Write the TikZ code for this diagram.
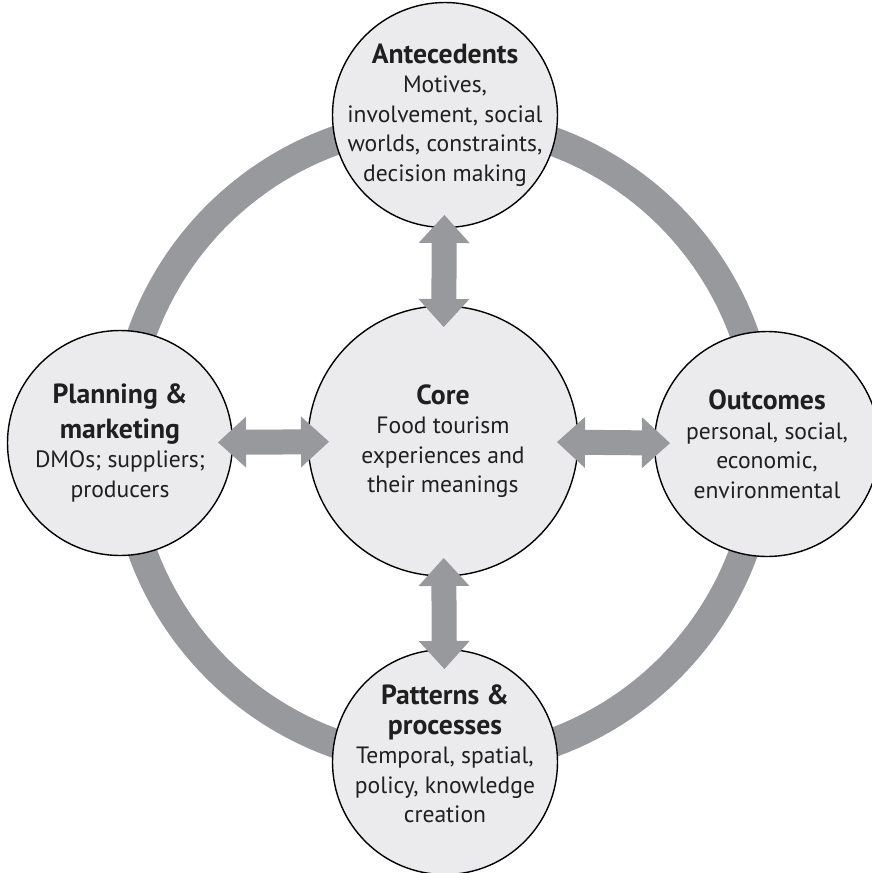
\documentclass[tikz,border=0pt]{standalone}
\usepackage{fontspec}
\setmainfont{PT Sans}
\usetikzlibrary{arrows.meta}
\definecolor{ringgray}{RGB}{152,153,156}
\definecolor{fillgray}{RGB}{235,235,237}
\newcommand\ttlf{\fontsize{27.7}{29.5}\selectfont\bfseries}
\begin{document}
\begin{tikzpicture}[x=1pt,y=-1pt,
  bubble/.style={circle, draw=black, line width=1.4pt, fill=fillgray, inner sep=0pt, minimum size=#1},
  txt/.style={align=center, font=\fontsize{23.6}{29.5}\selectfont, text=black!88, inner sep=0pt},
  link/.style={color=ringgray, line width=25pt,
    {Triangle[width=51pt,length=28pt,line width=0pt]}-{Triangle[width=51pt,length=28pt,line width=0pt]}}]
\useasboundingbox (0,0) rectangle (872,873);
\coordinate (mid) at (443,442);
\draw[ringgray, line width=29pt] (mid) circle[radius=320];
\node[bubble=270] (core) at (443,441) {};
\node[bubble=225] (ante) at (445,115) {};
\node[bubble=225] (plan) at (120,443) {};
\node[bubble=225] (outc) at (767,444) {};
\node[bubble=225] (patt) at (445,762) {};
\draw[link, shorten <=100pt, shorten >=114pt] (ante.center) -- (core.center);
\draw[link, shorten <=98pt, shorten >=114pt] (plan.center) -- (core.center);
\draw[link, shorten <=97pt, shorten >=114pt] (outc.center) -- (core.center);
\draw[link, shorten <=93pt, shorten >=117pt] (patt.center) -- (core.center);
\node[txt] (coret) at (core) {{\ttlf Core}\\Food tourism\\experiences and\\their meanings};
\node[txt] (antet) at (ante) {{\ttlf Antecedents}\\Motives,\\involvement, social\\worlds, constraints,\\decision making};
\node[txt] (plant) at (plan) {{\ttlf Planning \&}\\[5pt]{\ttlf marketing}\\DMOs; suppliers;\\producers};
\node[txt] (outct) at (outc) {{\ttlf Outcomes}\\personal, social,\\economic,\\environmental};
\node[txt] (pattt) at ([yshift=8pt]patt) {{\ttlf Patterns \&}\\{\ttlf processes}\\Temporal, spatial,\\policy, knowledge\\creation};
\end{tikzpicture}
\end{document}
